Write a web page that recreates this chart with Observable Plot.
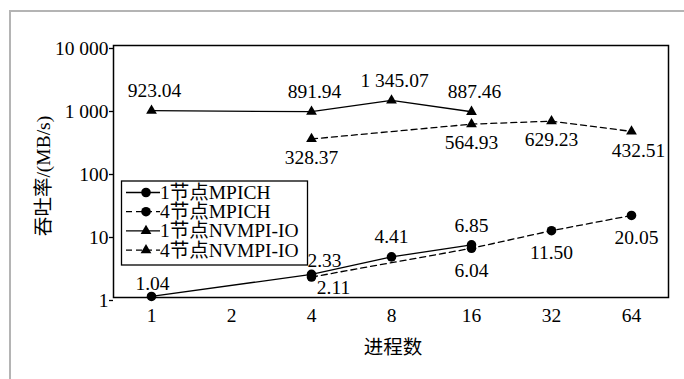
<!DOCTYPE html>
<html><head><meta charset="utf-8">
<script src="https://cdn.jsdelivr.net/npm/d3@7"></script>
<script src="https://cdn.jsdelivr.net/npm/@observablehq/plot@0.6"></script>
<style>
html,body{margin:0;padding:0;background:#fff;}
#wrap{position:relative;width:684px;height:379px;overflow:hidden;}
#border{position:absolute;left:9px;top:10px;width:800px;height:500px;border-left:2px solid #b4b4b4;border-top:2px solid #b4b4b4;}
#chart{position:absolute;left:0;top:0;}
</style></head><body>
<div id="wrap"><div id="border"></div><div id="chart"></div></div>
<script>
const processCounts = [1, 2, 4, 8, 16, 32, 64];
const yTicks = [1, 10, 100, 1000, 10000];
const yTickLabels = ["1", "10", "100", "1 000", "10 000"];
const seriesNames = ["1节点MPICH", "4节点MPICH", "1节点NVMPI-IO", "4节点NVMPI-IO"];
const mpich1Procs = [1, 4, 8, 16];
const mpich1Values = [1.04, 2.33, 4.41, 6.85];
const mpich4Procs = [4, 16, 32, 64];
const mpich4Values = [2.11, 6.04, 11.50, 20.05];
const nvmpi1Procs = [1, 4, 8, 16];
const nvmpi1Values = [923.04, 891.94, 1345.07, 887.46];
const nvmpi4Procs = [4, 16, 32, 64];
const nvmpi4Values = [328.37, 564.93, 629.23, 432.51];
const xTitle = "进程数";
const yTitle = "吞吐率/(MB/s)";

const FONT = "'Liberation Serif', 'Times New Roman', 'Noto Sans CJK SC', serif";
const FS = 19.5;
const fmt = v => d3.format(",.2f")(v).replace(/,/g, " ");
const mk = (name, xs, ys) => xs.map((x, i) => ({name, x, y: ys[i], label: fmt(ys[i])}));
const m1 = mk(seriesNames[0], mpich1Procs, mpich1Values);
const m4 = mk(seriesNames[1], mpich4Procs, mpich4Values);
const n1 = mk(seriesNames[2], nvmpi1Procs, nvmpi1Values);
const n4 = mk(seriesNames[3], nvmpi4Procs, nvmpi4Values);

const DASH = "6,4";
const SW = 1.3;
const CR = 4.8, TR = 4.0;

function lab(data, idx, dx, dy) {
  return Plot.text(data.filter((d, i) => idx.includes(i)), {x: "x", y: "y", text: "label", dx, dy, fontSize: FS, fill: "black", fontFamily: FONT});
}

const plot = Plot.plot({
  width: 684, height: 379,
  marginLeft: 113, marginRight: 16, marginTop: 45, marginBottom: 82,
  style: {fontFamily: FONT, fontSize: FS + "px", background: "transparent", color: "black"},
  x: {type: "point", domain: processCounts, padding: 0.46},
  y: {type: "log", domain: [1, 10000]},
  marks: [
    Plot.axisX({ticks: processCounts, tickFormat: d => String(d), tickSize: 0, tickPadding: 11, fontSize: FS, fontFamily: FONT, label: null}),
    Plot.axisY({ticks: yTicks, tickFormat: (d) => yTickLabels[yTicks.indexOf(d)], tickSize: 4, tickPadding: 1, dy: 3, fontSize: FS, fontFamily: FONT, label: null, strokeWidth: 1.3}),
    Plot.frame({stroke: "black", strokeWidth: 1.5}),
    Plot.line(m1, {x: "x", y: "y", stroke: "black", strokeWidth: SW}),
    Plot.line(m4, {x: "x", y: "y", stroke: "black", strokeWidth: SW, strokeDasharray: DASH}),
    Plot.line(n1, {x: "x", y: "y", stroke: "black", strokeWidth: SW}),
    Plot.line(n4, {x: "x", y: "y", stroke: "black", strokeWidth: SW, strokeDasharray: DASH}),
    Plot.dot(m1, {x: "x", y: "y", r: CR, fill: "black", symbol: "circle"}),
    Plot.dot(m4, {x: "x", y: "y", r: CR, fill: "black", symbol: "circle"}),
    Plot.dot(n1, {x: "x", y: "y", r: TR, fill: "black", symbol: "triangle"}),
    Plot.dot(n4, {x: "x", y: "y", r: TR, fill: "black", symbol: "triangle"}),
    lab(n1, [0, 1, 2, 3], 3, -20),
    lab(n4, [0, 1, 2], 0, 19),
    lab(n4, [3], 7, 19),
    lab(m1, [0], 1, -13),
    lab(m1, [1], 13, -14),
    lab(m1, [2], 0, -20),
    lab(m1, [3], 0, -19),
    lab(m4, [0], 22, 11),
    lab(m4, [1, 2], 0, 22),
    lab(m4, [3], 5, 22)
  ]
});
document.getElementById("chart").appendChild(plot);

const svg = d3.select(plot);
svg.append("text").attr("x", 393).attr("y", 347).attr("text-anchor", "middle")
  .attr("dominant-baseline", "central").attr("font-size", FS).attr("font-family", FONT).attr("fill", "black").text(xTitle);
svg.append("text").attr("transform", "translate(43,176) rotate(-90)").attr("text-anchor", "middle")
  .attr("dominant-baseline", "central").attr("font-size", FS).attr("font-family", FONT).attr("fill", "black").text(yTitle);

const lg = svg.append("g");
lg.append("rect").attr("x", 121.5).attr("y", 181).attr("width", 186).attr("height", 84)
  .attr("fill", "white").attr("stroke", "black").attr("stroke-width", 1.3);
const legendStyles = [
  {dash: null, sym: d3.symbolCircle, r: CR},
  {dash: DASH, sym: d3.symbolCircle, r: CR},
  {dash: null, sym: d3.symbolTriangle, r: TR},
  {dash: DASH, sym: d3.symbolTriangle, r: TR}
];
seriesNames.forEach((name, i) => {
  const yy = 192.5 + i * 19.2;
  const s = legendStyles[i];
  const ln = lg.append("line").attr("x1", 126).attr("x2", 160).attr("y1", yy).attr("y2", yy)
    .attr("stroke", "black").attr("stroke-width", SW);
  if (s.dash) ln.attr("stroke-dasharray", s.dash);
  lg.append("path").attr("transform", `translate(146,${yy})`)
    .attr("d", d3.symbol(s.sym, s.r * s.r * Math.PI)()).attr("fill", "black");
  lg.append("text").attr("x", 160).attr("y", yy).attr("text-anchor", "start").attr("dominant-baseline", "central")
    .attr("font-size", FS).attr("font-family", FONT).attr("fill", "black").text(name);
});
</script>
</body></html>
